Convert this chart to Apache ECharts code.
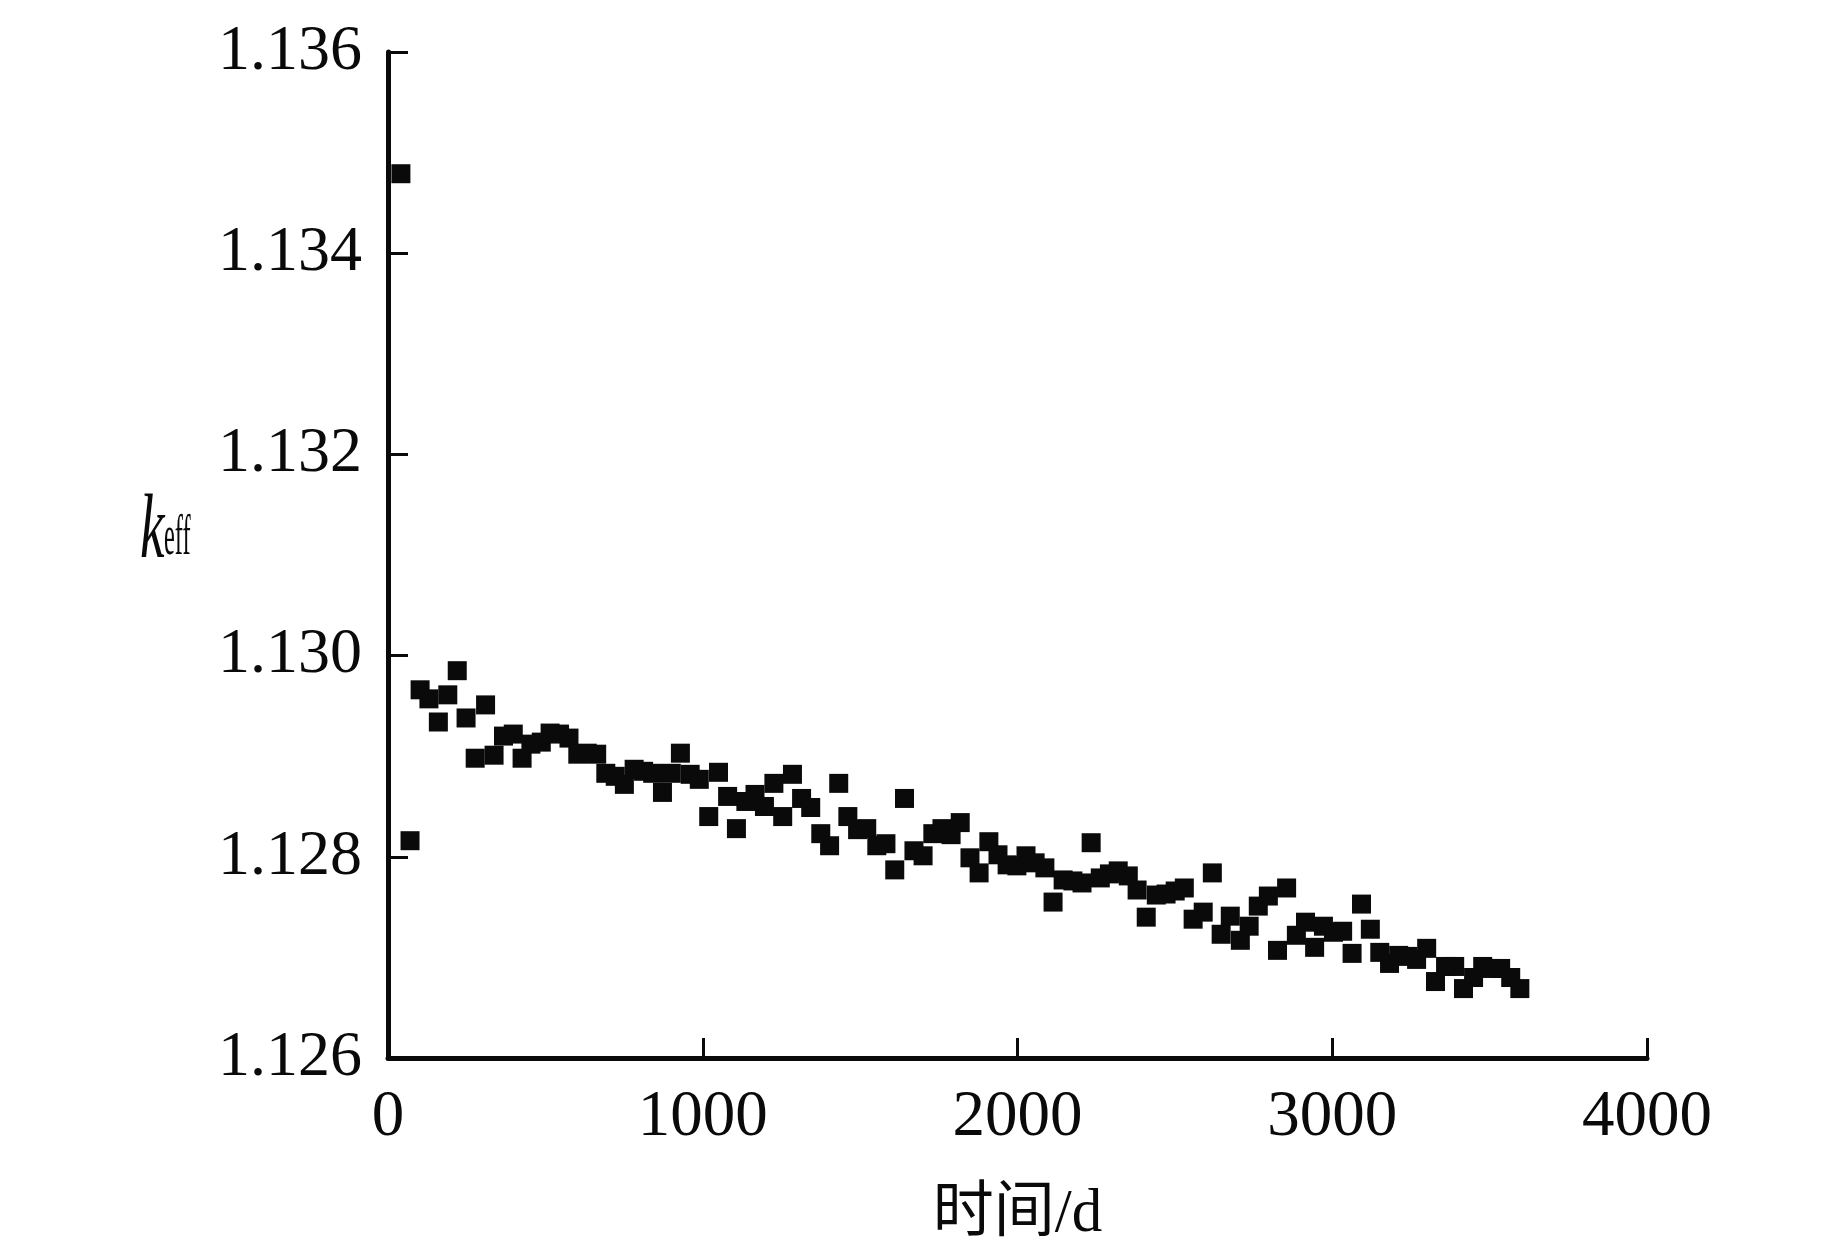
<!DOCTYPE html>
<html>
<head>
<meta charset="utf-8">
<script src="https://cdn.jsdelivr.net/npm/echarts@6/dist/echarts.min.js"></script>
<style>
html,body{margin:0;padding:0;background:#fff;}
#chart{width:1843px;height:1256px;}
</style>
</head>
<body>
<div id="chart"></div>
<script>
const days = [41, 70, 102, 130, 160, 190, 220, 248, 277, 310, 337, 367, 398, 426, 454, 487, 515, 545, 575, 603,
  633, 663, 692, 722, 751, 782, 812, 841, 872, 900, 929, 960, 989, 1019, 1050, 1079, 1107, 1137, 1166, 1196,
  1226, 1254, 1285, 1314, 1343, 1375, 1403, 1432, 1461, 1492, 1521, 1553, 1582, 1610, 1641, 1671, 1700, 1731, 1760, 1789,
  1818, 1849, 1878, 1909, 1938, 1967, 1998, 2027, 2056, 2087, 2113, 2145, 2176, 2205, 2234, 2263, 2292, 2320, 2352, 2380,
  2409, 2441, 2472, 2501, 2530, 2558, 2590, 2619, 2647, 2676, 2708, 2736, 2765, 2797, 2826, 2855, 2886, 2915, 2944, 2972,
  3004, 3033, 3063, 3093, 3121, 3151, 3182, 3211, 3240, 3268, 3300, 3328, 3360, 3389, 3417, 3449, 3478, 3507, 3535, 3567,
  3596];
const keff = [1.13479, 1.12816, 1.12966, 1.12957, 1.12934, 1.12961, 1.12985, 1.12938, 1.12898, 1.12951, 1.12901, 1.12920, 1.12922, 1.12898, 1.12912, 1.12914, 1.12923, 1.12922, 1.12918, 1.12902,
  1.12903, 1.12902, 1.12883, 1.12880, 1.12872, 1.12887, 1.12885, 1.12883, 1.12864, 1.12883, 1.12903, 1.12882, 1.12877, 1.12840, 1.12884, 1.12860, 1.12828, 1.12855, 1.12862, 1.12850,
  1.12873, 1.12840, 1.12882, 1.12858, 1.12849, 1.12823, 1.12811, 1.12873, 1.12840, 1.12827, 1.12828, 1.12811, 1.12813, 1.12787, 1.12858, 1.12806, 1.12801, 1.12823, 1.12828, 1.12822,
  1.12834, 1.12799, 1.12784, 1.12815, 1.12802, 1.12792, 1.12791, 1.12801, 1.12794, 1.12789, 1.12755, 1.12777, 1.12776, 1.12774, 1.12814, 1.12779, 1.12783, 1.12786, 1.12781, 1.12767,
  1.12740, 1.12762, 1.12763, 1.12766, 1.12769, 1.12738, 1.12745, 1.12784, 1.12723, 1.12741, 1.12717, 1.12731, 1.12751, 1.12761, 1.12707, 1.12769, 1.12722, 1.12735, 1.12710, 1.12731,
  1.12725, 1.12726, 1.12704, 1.12753, 1.12728, 1.12705, 1.12694, 1.12702, 1.12701, 1.12698, 1.12709, 1.12676, 1.12691, 1.12691, 1.12669, 1.12680, 1.12691, 1.12689, 1.12689, 1.12680,
  1.12669];
const xTicks = [0, 1000, 2000, 3000, 4000];
const yTicks = [1.126, 1.128, 1.130, 1.132, 1.134, 1.136];
const xName = '时间/d';

const points = days.map((d, i) => [d, keff[i]]);
const serif = "'Liberation Serif', 'Times New Roman', serif";

const chart = echarts.init(document.getElementById('chart'), null, {renderer: 'canvas'});
chart.setOption({
  backgroundColor: '#ffffff',
  animation: false,
  grid: {left: 388, right: 196, top: 52, bottom: 198, containLabel: false},
  xAxis: {
    type: 'value',
    min: xTicks[0], max: xTicks[xTicks.length - 1], interval: 1000,
    name: xName, nameLocation: 'middle', nameGap: 126,
    nameTextStyle: {fontFamily: "'Liberation Serif', 'Noto Sans CJK SC', serif", fontSize: 61, color: '#0a0a0a'},
    axisLine: {lineStyle: {color: '#0a0a0a', width: 5}},
    axisTick: {inside: true, length: 20, lineStyle: {color: '#0a0a0a', width: 3}},
    axisLabel: {margin: 27, fontFamily: serif, fontSize: 65, color: '#0a0a0a', formatter: v => String(v)},
    splitLine: {show: false}
  },
  yAxis: {
    type: 'value',
    min: yTicks[0], max: yTicks[yTicks.length - 1], interval: 0.002,
    axisLine: {show: true, lineStyle: {color: '#0a0a0a', width: 5}},
    axisTick: {show: true, inside: true, length: 20, lineStyle: {color: '#0a0a0a', width: 3}},
    axisLabel: {margin: 26, fontFamily: serif, fontSize: 64, color: '#0a0a0a', formatter: v => v.toFixed(3)},
    splitLine: {show: false}
  },
  graphic: [
    {type: 'text', x: 140, y: 533, scaleX: 0.6, style: {text: 'k', font: 'italic 92px ' + serif, fill: '#0a0a0a', align: 'left', verticalAlign: 'middle'}},
    {type: 'text', x: 164, y: 539, scaleX: 0.42, style: {text: 'eff', font: '58px ' + serif, fill: '#0a0a0a', align: 'left', verticalAlign: 'middle'}}
  ],
  series: [{
    type: 'scatter',
    data: points,
    symbol: 'rect',
    symbolSize: 19,
    itemStyle: {color: '#0a0a0a', opacity: 1},
    clip: false
  }]
});
</script>
</body>
</html>
